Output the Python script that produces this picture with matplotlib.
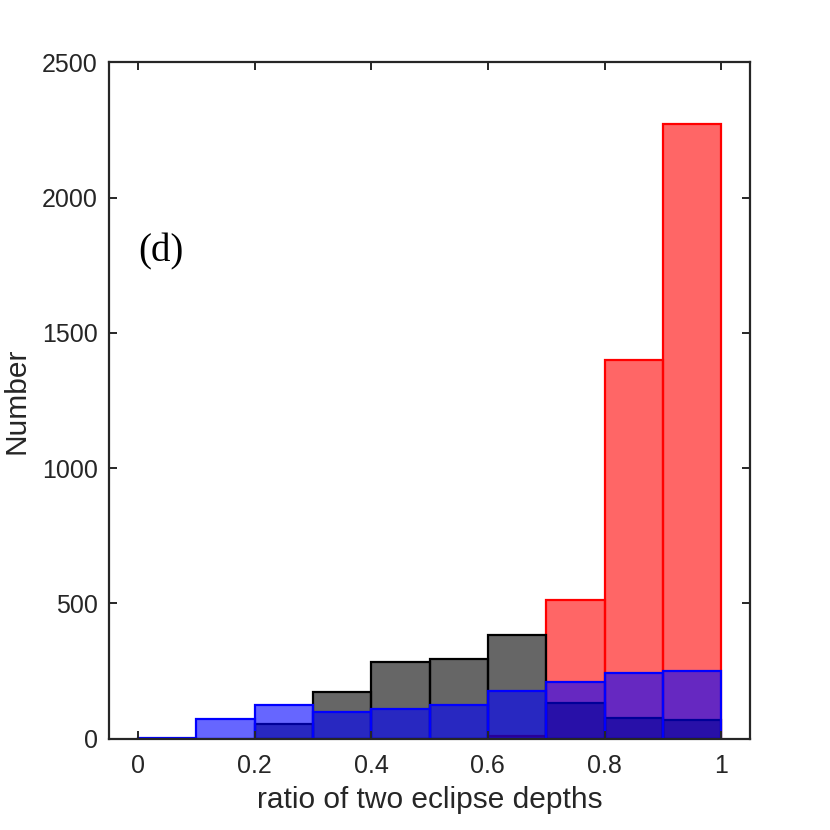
import numpy as np
import matplotlib
matplotlib.use('Agg')
import matplotlib.pyplot as plt

plt.rcParams['font.family'] = ['Liberation Sans', 'DejaVu Sans']

bin_edges = [0.0, 0.1, 0.2, 0.3, 0.4, 0.5, 0.6, 0.7, 0.8, 0.9, 1.0]
red_counts = [0, 0, 0, 0, 0, 0, 10, 514, 1399, 2273]
gray_counts = [0, 0, 54, 172, 282, 295, 383, 132, 75, 70]
blue_counts = [3, 73, 125, 98, 111, 125, 175, 209, 241, 251]

def draw_hist(ax, counts, face, edge):
	left = np.array(bin_edges[:-1])
	h = np.array(counts, dtype=float)
	keep = h > 0
	ax.bar(left[keep], h[keep], width=0.1, align='edge',
		facecolor=face, edgecolor=edge, linewidth=1.6)

fig = plt.figure(figsize=(8.3, 8.3), dpi=100)
ax = fig.add_axes([0.131, 0.110, 0.773, 0.815])

draw_hist(ax, red_counts, (1, 0, 0, 0.6), (1, 0, 0, 1))
draw_hist(ax, gray_counts, (0, 0, 0, 0.6), (0, 0, 0, 1))
draw_hist(ax, blue_counts, (0, 0, 1, 0.6), (0, 0, 1, 1))

ax.set_xlim(-0.05, 1.05)
ax.set_ylim(0, 2500)
ax.set_xticks([0, 0.2, 0.4, 0.6, 0.8, 1])
ax.set_xticklabels(['0', '0.2', '0.4', '0.6', '0.8', '1'])
ax.set_yticks([0, 500, 1000, 1500, 2000, 2500])
ax.tick_params(direction='in', length=6, width=1.4, top=True, right=True,
	labelsize=18, colors='#262626')
ax.tick_params(axis='x', pad=11)
ax.tick_params(axis='y', pad=8)
for s in ax.spines.values():
	s.set_linewidth(1.6)
	s.set_color('#262626')

ax.set_xlabel('ratio of two eclipse depths', fontsize=21.5, color='#262626', labelpad=6)
ax.set_ylabel('Number', fontsize=21.5, color='#262626', labelpad=8)
ax.text(0.0, 1800, '(d)', fontsize=28, family='Liberation Serif', ha='left', va='center')

fig.savefig('out.png', dpi=100)
